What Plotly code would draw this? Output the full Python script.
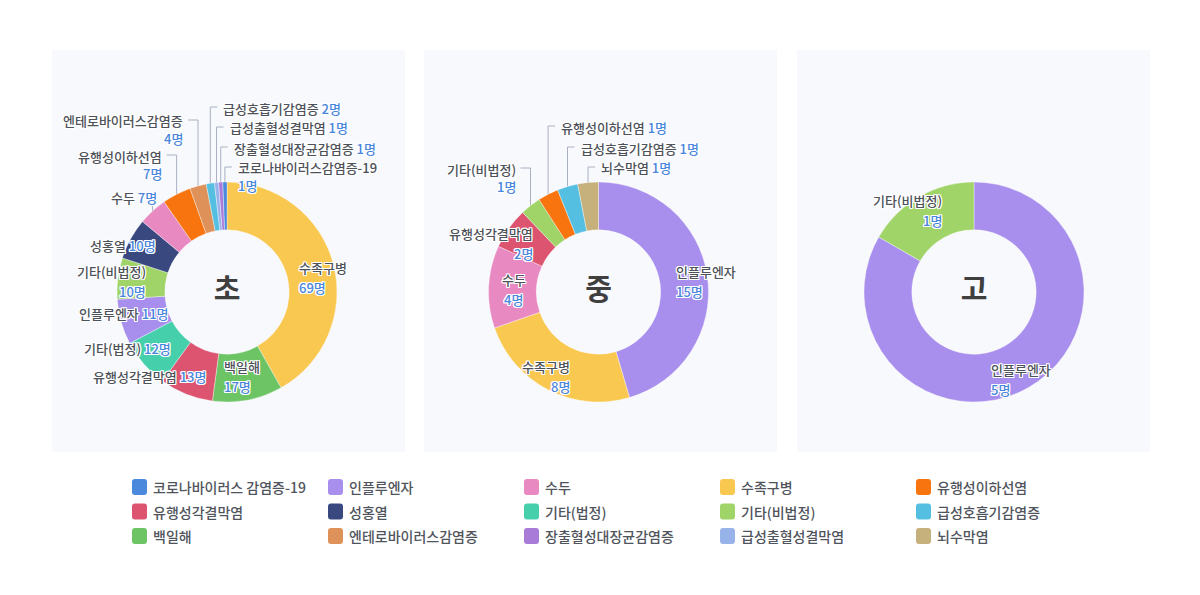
import math

import plotly.graph_objects as go

# page is drawn with the browser's 8px body margin, so everything is offset
OFF = 8
W, H = 1200 - 2 * OFF, 595 - 2 * OFF
FONT = "Noto Sans CJK KR, Noto Sans, sans-serif"
NAME_COLOR = "#4d5159"
COUNT_COLOR = "#4a86dc"
LINE_COLOR = "#a9b1c1"
PANEL_BG = "#f8f9fd"

# ---- data -------------------------------------------------------------
LEGEND_LABELS = [
    "코로나바이러스 감염증-19", "인플루엔자", "수두", "수족구병", "유행성이하선염",
    "유행성각결막염", "성홍열", "기타(법정)", "기타(비법정)", "급성호흡기감염증",
    "백일해", "엔테로바이러스감염증", "장출혈성대장균감염증", "급성출혈성결막염", "뇌수막염",
]
LEGEND_COLORS = [
    "#4a89dc", "#a98fed", "#e989c2", "#f9c851", "#f7740f",
    "#dd5471", "#3a4880", "#46cfab", "#a0d468", "#55bfe2",
    "#6cc464", "#df915a", "#a87bd9", "#98b3ea", "#c6b07b",
]

SCHOOLS = ["초", "중", "고"]

ELEM_LABELS = ["수족구병", "백일해", "유행성각결막염", "기타(법정)", "인플루엔자",
               "기타(비법정)", "성홍열", "수두", "유행성이하선염", "엔테로바이러스감염증",
               "급성호흡기감염증", "급성출혈성결막염", "장출혈성대장균감염증",
               "코로나바이러스감염증-19"]
ELEM_VALUES = [69, 17, 13, 12, 11, 10, 10, 7, 7, 4, 2, 1, 1, 1]

MID_LABELS = ["인플루엔자", "수족구병", "수두", "유행성각결막염", "기타(비법정)",
              "유행성이하선염", "급성호흡기감염증", "뇌수막염"]
MID_VALUES = [15, 8, 4, 2, 1, 1, 1, 1]

HIGH_LABELS = ["인플루엔자", "기타(비법정)"]
HIGH_VALUES = [5, 1]

# ---- label placement (pixels) ----------------------------------------
# ("in", xanchor, dx, dy, lines)  -> near the middle of the ring
# ("out", side, label_y, lines)  -> outside, with an elbow leader line
ELEM_PLACE = {
    "수족구병": ("in", "left", -12, 7, 2),
    "백일해": ("in", "left", -20, 0, 2),
    "유행성각결막염": ("in", "right", 12, 5, 1),
    "기타(법정)": ("in", "right", 10, 0, 1),
    "인플루엔자": ("in", "right", 26, -2, 1),
    "기타(비법정)": ("in", "right", 5, 0, 2),
    "성홍열": ("in", "right", 5, -5, 1),
    "수두": ("out", "top", 197, 1),
    "유행성이하선염": ("out", "left", 156, 2),
    "엔테로바이러스감염증": ("out", "left", 121, 2),
    "급성호흡기감염증": ("out", "right", 108, 1),
    "급성출혈성결막염": ("out", "right", 128, 1),
    "장출혈성대장균감염증": ("out", "right", 148, 1),
    "코로나바이러스감염증-19": ("out", "right", 168, 2),
}
MID_PLACE = {
    "인플루엔자": ("in", "left", -9, 2, 2),
    "수족구병": ("in", "right", 12, 8, 2),
    "수두": ("in", "center", 1, 2, 2),
    "유행성각결막염": ("in", "right", 6, 1, 2),
    "기타(비법정)": ("out", "left", 169, 2),
    "유행성이하선염": ("out", "right", 127, 1),
    "급성호흡기감염증": ("out", "right", 148, 1),
    "뇌수막염": ("out", "right", 168, 1),
}
HIGH_PLACE = {
    "인플루엔자": ("in", "left", -27, 13, 2),
    "기타(비법정)": ("in", "right", 12, -7, 2),
}

PANELS = [(52, 405), (424, 777), (797, 1150)]
PANEL_Y = (50, 452)
CENTERS = [227, 598.5, 974]
CY, R, HOLE = 292, 110, 0.565

color_of = {lab.replace(" ", ""): c for lab, c in zip(LEGEND_LABELS, LEGEND_COLORS)}


def px(x):
    return (x - OFF) / W


def py(y):
    return 1 - (y - OFF) / H


shadow = ("1px 1px 0 #fff, -1px -1px 0 #fff, 1px -1px 0 #fff, -1px 1px 0 #fff, "
          "0 1px 0 #fff, 0 -1px 0 #fff, 1px 0 0 #fff, -1px 0 0 #fff")

fig = go.Figure()
annotations = []
shapes = []

for x0, x1 in PANELS:
    shapes.append(dict(type="rect", xref="paper", yref="paper",
                       x0=px(x0), x1=px(x1), y0=py(PANEL_Y[1]), y1=py(PANEL_Y[0]),
                       fillcolor=PANEL_BG, line=dict(width=0), layer="below"))


def add_text(x, y, text, xanchor):
    annotations.append(dict(
        x=px(x), y=py(y), xref="paper", yref="paper", text=text,
        showarrow=False, xanchor=xanchor, yanchor="middle", align=xanchor,
        borderpad=0,
        font=dict(family=FONT, size=13, weight=500, color=NAME_COLOR, shadow=shadow),
    ))


def count(v):
    return f"<span style='color:{COUNT_COLOR}'>{v}명</span>"


pies = [(ELEM_LABELS, ELEM_VALUES, ELEM_PLACE),
        (MID_LABELS, MID_VALUES, MID_PLACE),
        (HIGH_LABELS, HIGH_VALUES, HIGH_PLACE)]

for school, cx, (labels, values, place) in zip(SCHOOLS, CENTERS, pies):
    fig.add_trace(go.Pie(
        labels=labels, values=values, sort=False, direction="clockwise",
        hole=HOLE, textinfo="none", showlegend=False,
        marker=dict(colors=[color_of[l] for l in labels],
                    line=dict(color="rgba(255,255,255,0.6)", width=0.6)),
        domain=dict(x=[px(cx - R), px(cx + R)], y=[py(CY + R), py(CY - R)]),
        title=dict(text=f"<b>{school}</b>", position="middle center",
                   font=dict(family=FONT, size=29, color="#3f3f3f")),
        hovertemplate="%{label}: %{value}명<extra>" + school + "</extra>",
    ))

    total = sum(values)
    acc = 0
    for lab, v in zip(labels, values):
        mid = math.radians((acc + v / 2) / total * 360)
        acc += v
        s, c = math.sin(mid), math.cos(mid)
        cfg = place[lab]
        if cfg[0] == "in":
            _, xa, dx, dy, n = cfg
            rm = R * (1 + HOLE) / 2
            x = cx + rm * s + dx
            yc = CY - rm * c + dy
            if n == 1:
                add_text(x, yc, f"{lab} {count(v)}", xa)
            else:
                add_text(x, yc - 10, lab, xa)
                add_text(x, yc + 10, count(v), xa)
            continue

        _, side, ly, n = cfg
        ex, ey = cx + R * s, CY - R * c
        if side == "top":
            path = f"M{px(ex)},{py(ey)} L{px(ex)},{py(ly + 7)}"
            add_text(ex + 5, ly, f"{lab} {count(v)}", "right")
        elif side == "left":
            path = (f"M{px(ex)},{py(ey)} L{px(ex)},{py(ly - 1)} "
                    f"L{px(ex - 10)},{py(ly - 1)}")
            if n == 1:
                add_text(ex - 14, ly, f"{lab} {count(v)}", "right")
            else:
                add_text(ex - 14, ly, lab, "right")
                add_text(ex - 14, ly + 17, count(v), "right")
        else:
            path = (f"M{px(ex)},{py(ey)} L{px(ex)},{py(ly - 1)} "
                    f"L{px(ex + 7)},{py(ly - 1)}")
            if n == 1:
                add_text(ex + 12, ly, f"{lab} {count(v)}", "left")
            else:
                add_text(ex + 12, ly, lab, "left")
                add_text(ex + 12, ly + 17, count(v), "left")
        shapes.append(dict(type="path", xref="paper", yref="paper", path=path,
                           line=dict(color=LINE_COLOR, width=1), layer="below"))

# ---- legend: 5 columns x 3 rows -------------------------------------
for i, (lab, col) in enumerate(zip(LEGEND_LABELS, LEGEND_COLORS)):
    r, cidx = divmod(i, 5)
    lx = 132 + 196 * cidx
    ly = 487 + 24.5 * r
    x0, x1, y0, y1, k = lx, lx + 15, ly - 8, ly + 8, 3
    path = (f"M{px(x0 + k)},{py(y0)} L{px(x1 - k)},{py(y0)} "
            f"Q{px(x1)},{py(y0)} {px(x1)},{py(y0 + k)} L{px(x1)},{py(y1 - k)} "
            f"Q{px(x1)},{py(y1)} {px(x1 - k)},{py(y1)} L{px(x0 + k)},{py(y1)} "
            f"Q{px(x0)},{py(y1)} {px(x0)},{py(y1 - k)} L{px(x0)},{py(y0 + k)} "
            f"Q{px(x0)},{py(y0)} {px(x0 + k)},{py(y0)} Z")
    shapes.append(dict(type="path", xref="paper", yref="paper", path=path,
                       fillcolor=col, line=dict(width=0)))
    annotations.append(dict(
        x=px(lx + 20), y=py(ly), xref="paper", yref="paper", text=lab,
        showarrow=False, xanchor="left", yanchor="middle", borderpad=0,
        font=dict(family=FONT, size=14, weight=500, color="#50545c"),
    ))

fig.update_layout(
    width=W, height=H,
    margin=dict(l=0, r=0, t=0, b=0),
    paper_bgcolor="white", plot_bgcolor="white",
    showlegend=False,
    shapes=shapes, annotations=annotations,
    font=dict(family=FONT),
)

fig.write_html("out.html")
